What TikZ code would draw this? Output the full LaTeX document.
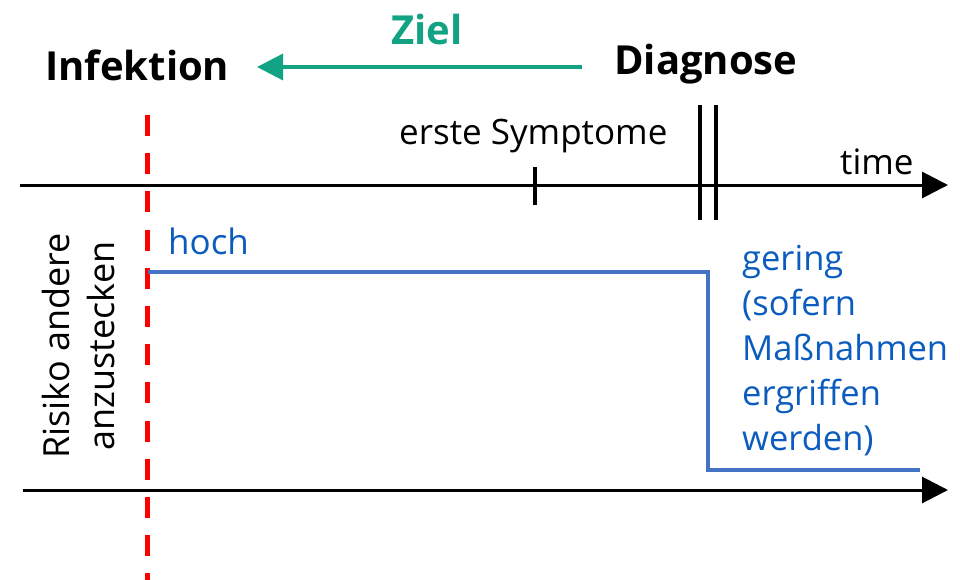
\documentclass[tikz,border=0pt]{standalone}
\usepackage{fontspec}
\setmainfont{Open Sans}
\usetikzlibrary{arrows.meta}
\definecolor{zielgreen}{HTML}{12A384}
\definecolor{stepblue}{HTML}{4472C4}
\definecolor{textblue}{HTML}{0B5CBE}
\tikzset{
	lbl/.style={inner sep=0pt,anchor=base west},
	bigbold/.style={lbl,font=\fontsize{40}{48}\selectfont\bfseries},
	plain/.style={lbl,font=\fontsize{35}{43}\selectfont},
	axisline/.style={line width=3pt,-{Triangle[length=26pt,width=26pt]}},
	tickline/.style={line width=3.2pt}
}

\begin{document}
\begin{tikzpicture}[x=1pt,y=-1pt]
	\useasboundingbox (0,0) rectangle (960,580);

	\node (inf) at (45,81) [bigbold] {Infektion};
	\node (ziel) at (391,45) [bigbold,text=zielgreen] {Ziel};
	\node (diag) at (614,75) [bigbold] {Diagnose};
	\node (sympt) at (399,145) [plain] {erste Symptome};
	\node (time) at (840,175) [plain] {time};
	\node (hoch) at (168,254) [plain,text=textblue] {hoch};
	\node (gering) at (742,450) [plain,text=textblue,align=left,font=\fontsize{34.5}{45}\selectfont] {gering\\(sofern\\Maßnahmen\\ergriffen\\werden)};
	\node (risiko) at (78,346) [inner sep=0pt,rotate=90,align=center,font=\fontsize{36}{45}\selectfont] {Risiko andere\\anzustecken};

	\coordinate (z1) at (582,67);
	\coordinate (z2) at (257,67);
	\coordinate (t0) at (20,185);
	\coordinate (t1) at (948,185);
	\coordinate (r0) at (23,490);
	\coordinate (r1) at (948,490);
	\coordinate (i0) at (147,115);
	\coordinate (i1) at (147,590);
	\coordinate (s0) at (535,167);
	\coordinate (s1) at (535,205);
	\coordinate (d0) at (700,105);
	\coordinate (d1) at (700,220);
	\coordinate (e0) at (716,105);
	\coordinate (e1) at (716,220);
	\coordinate (h0) at (148,272);
	\coordinate (h1) at (708,470);
	\coordinate (h2) at (920,470);

	\draw[zielgreen,line width=3.3pt,-{Triangle[length=26pt,width=26pt]}] (z1) -- (z2);
	\draw[axisline] (t0) -- (t1);
	\draw[axisline] (r0) -- (r1);
	\draw[tickline] (s0) -- (s1);
	\draw[tickline] (d0) -- (d1);
	\draw[tickline] (e0) -- (e1);
	\draw[red,line width=5pt,dash pattern=on 21pt off 17.2pt] (i0) -- (i1);
	\draw[stepblue,line width=4pt] (h0) -| (h1) -- (h2);
\end{tikzpicture}
\end{document}
